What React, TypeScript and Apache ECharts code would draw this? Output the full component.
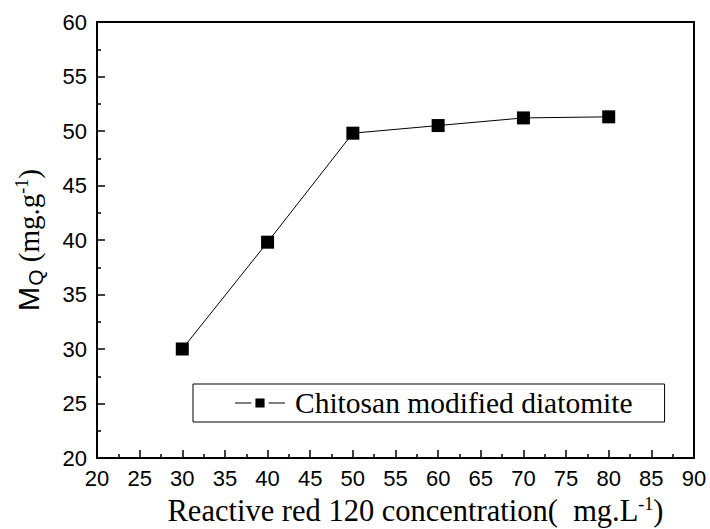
import React, { useEffect, useRef } from "react";
import * as echarts from "echarts";

const xValues = [30, 40, 50, 60, 70, 80];
const yValues = [30.0, 39.8, 49.8, 50.5, 51.2, 51.3];
const seriesName = "Chitosan modified diatomite";

export default function App() {
  const ref = useRef<HTMLDivElement>(null);
  useEffect(() => {
    if (!ref.current) return;
    const chart = echarts.init(ref.current, null, { renderer: "svg" });
    const data = xValues.map((x, i) => [x, yValues[i]]);
    const sans = "Liberation Sans, Arial, sans-serif";
    const serif = "Liberation Serif, Times New Roman, serif";
    chart.setOption({
      animation: false,
      backgroundColor: "#fff",
      grid: {
        left: 97,
        top: 22,
        width: 597,
        height: 436,
        containLabel: false,
        outerBoundsMode: "none",
      },
      xAxis: [
        {
          type: "value",
          min: 20,
          max: 90,
          interval: 5,
          position: "bottom",
          axisLine: { onZero: false, lineStyle: { color: "#000", width: 2 } },
          axisTick: { inside: true, length: 8, lineStyle: { color: "#000", width: 1.5 } },
          minorTick: { show: true, splitNumber: 2, length: 4, lineStyle: { color: "#000", width: 1.5 } },
          splitLine: { show: false },
          axisLabel: { color: "#000", fontSize: 22, fontFamily: sans, margin: 9 },
          name: "Reactive red 120 concentration(  mg.L{sup|-1})",
          nameLocation: "middle",
          nameGap: 37,
          nameTextStyle: {
            color: "#000",
            fontSize: 30.5,
            fontFamily: serif,
            padding: [0, 0, 0, 40],
            rich: {
              sup: { fontSize: 18, fontFamily: serif, color: "#000", padding: [0, 0, 14, 0] },
            },
          },
        },
        {
          type: "value",
          min: 20,
          max: 90,
          interval: 5,
          position: "top",
          axisLine: { onZero: false, lineStyle: { color: "#000", width: 2 } },
          axisTick: { show: false },
          axisLabel: { show: false },
          splitLine: { show: false },
        },
      ],
      yAxis: [
        {
          type: "value",
          min: 20,
          max: 60,
          interval: 5,
          position: "left",
          axisLine: { onZero: false, lineStyle: { color: "#000", width: 2 } },
          axisTick: { inside: true, length: 8, lineStyle: { color: "#000", width: 1.5 } },
          minorTick: { show: true, splitNumber: 2, length: 4, lineStyle: { color: "#000", width: 1.5 } },
          splitLine: { show: false },
          axisLabel: { color: "#000", fontSize: 22, fontFamily: sans, margin: 10 },
          name: "{m|M}{sub|Q}{s| (mg.g}{sup|-1}{s|)}",
          nameLocation: "middle",
          nameGap: 51,
          nameRotate: 90,
          nameTextStyle: {
            color: "#000",
            rich: {
              m: { fontSize: 29, fontFamily: sans, color: "#000" },
              sub: { fontSize: 21, fontFamily: sans, color: "#000", padding: [14, 0, 0, 1] },
              s: { fontSize: 29, fontFamily: serif, color: "#000" },
              sup: { fontSize: 18, fontFamily: serif, color: "#000", padding: [0, 0, 14, 0] },
            },
          },
        },
        {
          type: "value",
          min: 20,
          max: 60,
          interval: 5,
          position: "right",
          axisLine: { onZero: false, lineStyle: { color: "#000", width: 2 } },
          axisTick: { show: false },
          axisLabel: { show: false },
          splitLine: { show: false },
        },
      ],
      legend: {
        data: [seriesName],
        left: 193,
        top: 384,
        orient: "horizontal",
        borderColor: "#000",
        borderWidth: 1,
        borderRadius: 0,
        padding: [4, 32, 4, 42],
        icon: "path://M0,4.4h16v1.2H0z M20,0.5h9v9h-9z M33,4.4h16v1.2H33z",
        itemWidth: 50,
        itemHeight: 10,
        itemGap: 0,
        textStyle: { color: "#000", fontSize: 29.5, fontFamily: serif, lineHeight: 30, padding: [0, 0, 0, 5] },
      },
      series: [
        {
          name: seriesName,
          type: "line",
          xAxisIndex: 0,
          yAxisIndex: 0,
          data,
          symbol: "rect",
          symbolSize: 13,
          lineStyle: { color: "#000", width: 1 },
          itemStyle: { color: "#000" },
          emphasis: { disabled: true },
        },
      ],
    });
    return () => chart.dispose();
  }, []);
  return (
    <div
      ref={ref}
      style={{ position: "fixed", left: 0, top: 0, width: 710, height: 529, background: "#fff" }}
    />
  );
}
